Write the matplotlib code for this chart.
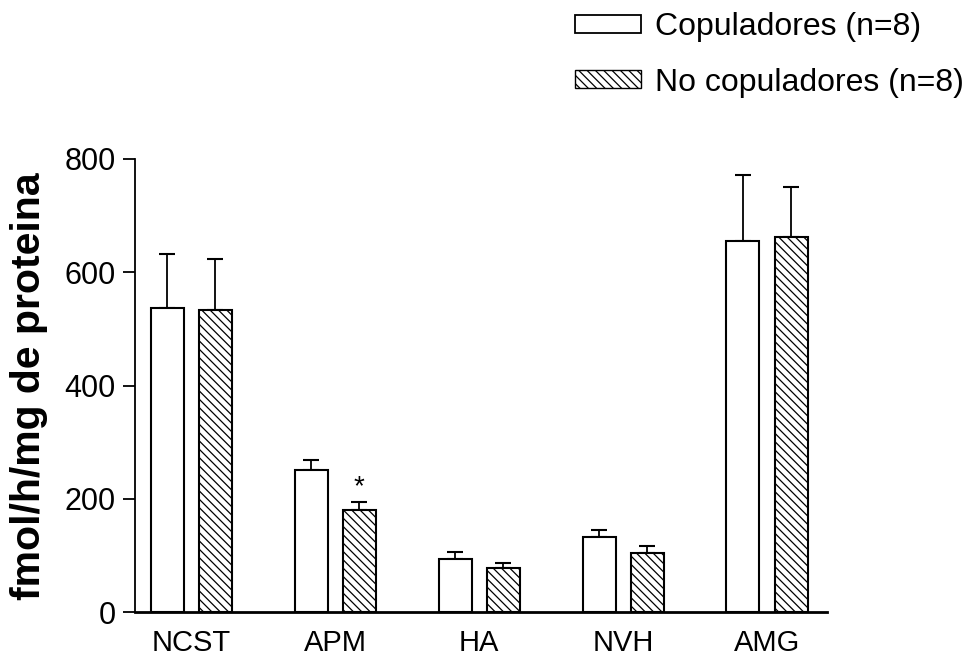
import matplotlib
matplotlib.use("Agg")
import matplotlib.pyplot as plt
import numpy as np
from matplotlib.patches import Patch

categories = ["NCST", "APM", "HA", "NVH", "AMG"]
copuladores = [537, 251, 93, 133, 656]
copuladores_err = [95, 17, 13, 12, 115]
no_copuladores = [534, 181, 77, 104, 662]
no_copuladores_err = [90, 13, 9, 13, 89]
yticks = [0, 200, 400, 600, 800]
legend_labels = ["Copuladores (n=8)", "No copuladores (n=8)"]
ylabel = "fmol/h/mg de proteina"
sig_marker = "*"
sig_index = 1  # APM, No copuladores

plt.rcParams['font.family'] = ['Liberation Sans', 'DejaVu Sans']
plt.rcParams['hatch.linewidth'] = 0.9

W, H = 976, 659
fig = plt.figure(figsize=(W / 100, H / 100), dpi=100)
ax = fig.add_axes([135 / W, (H - 612) / H, (827 - 135) / W, (612 - 159) / H])

x = np.arange(len(categories))
bw = 0.229
off = 0.167
lw = 1.5

ax.bar(x - off, copuladores, bw, facecolor='white', edgecolor='black', linewidth=lw, zorder=2)
ax.bar(x + off, no_copuladores, bw, facecolor='white', edgecolor='black', linewidth=lw,
       hatch='\\\\\\\\', zorder=2)
ax.errorbar(x - off, copuladores, yerr=[np.zeros(len(x)), copuladores_err], fmt='none',
            ecolor='black', elinewidth=1.3, capsize=6, capthick=1.5, zorder=1)
ax.errorbar(x + off, no_copuladores, yerr=[np.zeros(len(x)), no_copuladores_err], fmt='none',
            ecolor='black', elinewidth=1.3, capsize=6, capthick=1.5, zorder=1)

ax.text(x[sig_index] + off, no_copuladores[sig_index] + no_copuladores_err[sig_index] + 4,
        sig_marker, ha='center', va='bottom', fontsize=20)

ax.set_xlim(-0.392, len(categories) - 1 + 0.417)
ax.set_ylim(0, 800)
ax.set_yticks(yticks)
ax.set_xticks(x)
ax.set_xticklabels(categories)
ax.tick_params(axis='x', length=0, pad=12, labelsize=21)
ax.tick_params(axis='y', length=9, width=1.3, pad=5, labelsize=22, direction='out')
for s in ['top', 'right']:
    ax.spines[s].set_visible(False)
ax.spines['left'].set_linewidth(1.3)
ax.spines['bottom'].set_linewidth(2)

fig.text(29 / W, 1 - 386 / H, ylabel, rotation=90, ha='center', va='center',
         fontsize=29.5, fontweight='bold')

handles = [Patch(facecolor='white', edgecolor='black', linewidth=1.3),
           Patch(facecolor='white', edgecolor='black', linewidth=1.0, hatch='\\\\\\\\')]
fig.legend(handles, legend_labels, loc='upper left', bbox_to_anchor=(575 / W, 1 - 12 / H),
           frameon=False, fontsize=23, handlelength=2.07, handleheight=0.5,
           handletextpad=0.44, labelspacing=0.8, borderpad=0, borderaxespad=0)

fig.savefig("out.png", dpi=100)
